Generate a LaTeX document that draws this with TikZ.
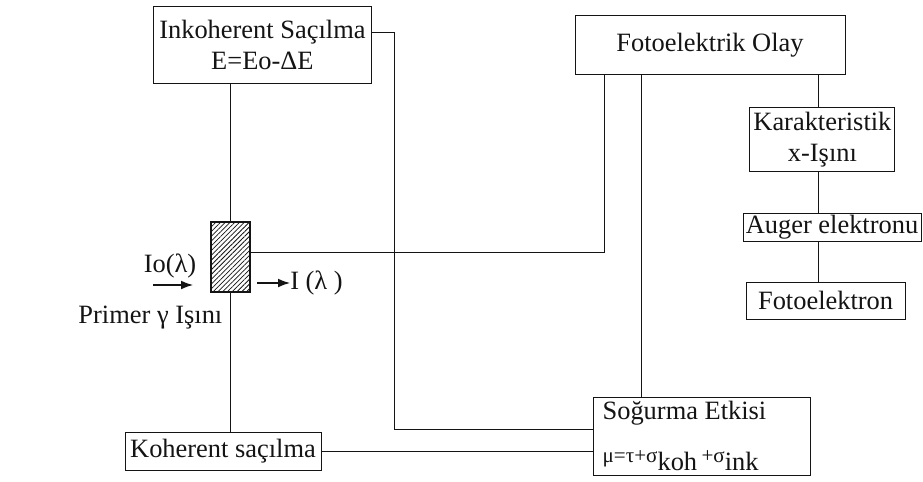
\documentclass[tikz,border=0pt]{standalone}
\usepackage{fontspec}
\setmainfont{Liberation Serif}
\usepackage{tikz}
\usetikzlibrary{arrows.meta,patterns.meta}
\definecolor{Ink}{HTML}{141414}
\tikzset{
  boxnode/.style={draw=Ink,line width=0.7pt,fill=white,align=center,inner sep=0pt,
    text=Ink,font=\fontsize{18.8}{22}\selectfont},
  wire/.style={draw=Ink,line width=0.6pt},
  beam/.style={-{Latex[length=3mm,width=2.2mm]},line width=0.8pt,draw=Ink},
  tag/.style={text=Ink,inner sep=0pt,font=\fontsize{18.8}{22}\selectfont},
  absorber/.style={draw=Ink,line width=1.1pt,inner sep=0pt,
    pattern={Lines[angle=45,distance=2.4pt,line width=0.55pt]},pattern color=Ink},
}
\begin{document}
\begin{tikzpicture}[x=1cm,y=1cm]
    \useasboundingbox (0,0) rectangle (23.075,12.025);
    \node[boxnode,minimum width=5.45cm,minimum height=1.925cm] (inko) at (6.56,10.89) {Inkoherent Saçılma\\E=Eo-ΔE};
    \node[boxnode,minimum width=6.75cm,minimum height=1.475cm] (foto) at (17.75,10.89) {Fotoelektrik Olay};
    \node[boxnode,minimum width=3.625cm,minimum height=1.6cm] (kar) at (20.56,8.54) {Karakteristik\\x-Işını};
    \node[boxnode,minimum width=4.45cm,minimum height=0.7cm] (auger) at (20.8,6.35) {Auger elektronu};
    \node[boxnode,minimum width=3.975cm,minimum height=0.925cm] (fel) at (20.64,4.51) {Fotoelektron};
    \node[boxnode,align=flush left,text width=4.95cm,minimum width=5.425cm,minimum height=1.95cm,font=\fontsize{18.8}{30}\selectfont] (sog) at (17.54,1.125)
      {Soğurma Etkisi\\{\fontsize{15}{16}\selectfont μ=τ+σ}\raisebox{-0.2cm}{koh}\,{\fontsize{15}{16}\selectfont +σ}\raisebox{-0.2cm}{ink}};
    \node[boxnode,minimum width=4.9cm,minimum height=0.95cm] (koh) at (5.575,0.75) {Koherent saçılma};
    \node[absorber,minimum width=0.975cm,minimum height=1.75cm] (sample) at (5.76,5.6) {};

    \node[tag] (incoming) at (4.25,5.375) {Io(λ)};
    \coordinate (beamstart) at (3.825,4.9);
    \draw[beam] (beamstart) -- ++(1.0,0);
    \node[tag] (primer) at (3.76,4.075) {Primer γ Işını};
    \node[tag,anchor=west] (outgoing) at (7.25,4.95) {I (λ )};
    \coordinate (outstart) at (6.425,4.95);
    \draw[beam] (outstart) -- (outgoing.west);

    \draw[wire] (sample.north) -- (sample.north |- inko.south);
    \draw[wire] (sample.south) -- (sample.south |- koh.north);
    \coordinate (inkoturn) at (9.85,11.225);
    \draw[wire] (inko.east |- inkoturn) -- (inkoturn) |- ([yshift=0.175cm]sog.west);
    \draw[wire] (koh.east) -- (koh.east -| sog.west);
    \coordinate (fotoleft) at (15.1,5.725);
    \draw[wire] (sample.east |- fotoleft) -- (fotoleft) -- (fotoleft |- foto.south);
    \coordinate (fotomid) at (16.025,0);
    \draw[wire] (foto.south -| fotomid) -- (sog.north -| fotomid);
    \coordinate (chain) at (20.45,0);
    \draw[wire] (foto.south -| chain) -- (kar.north -| chain);
    \draw[wire] (kar.south -| chain) -- (auger.north -| chain);
    \draw[wire] (auger.south -| chain) -- (fel.north -| chain);
\end{tikzpicture}
\end{document}
